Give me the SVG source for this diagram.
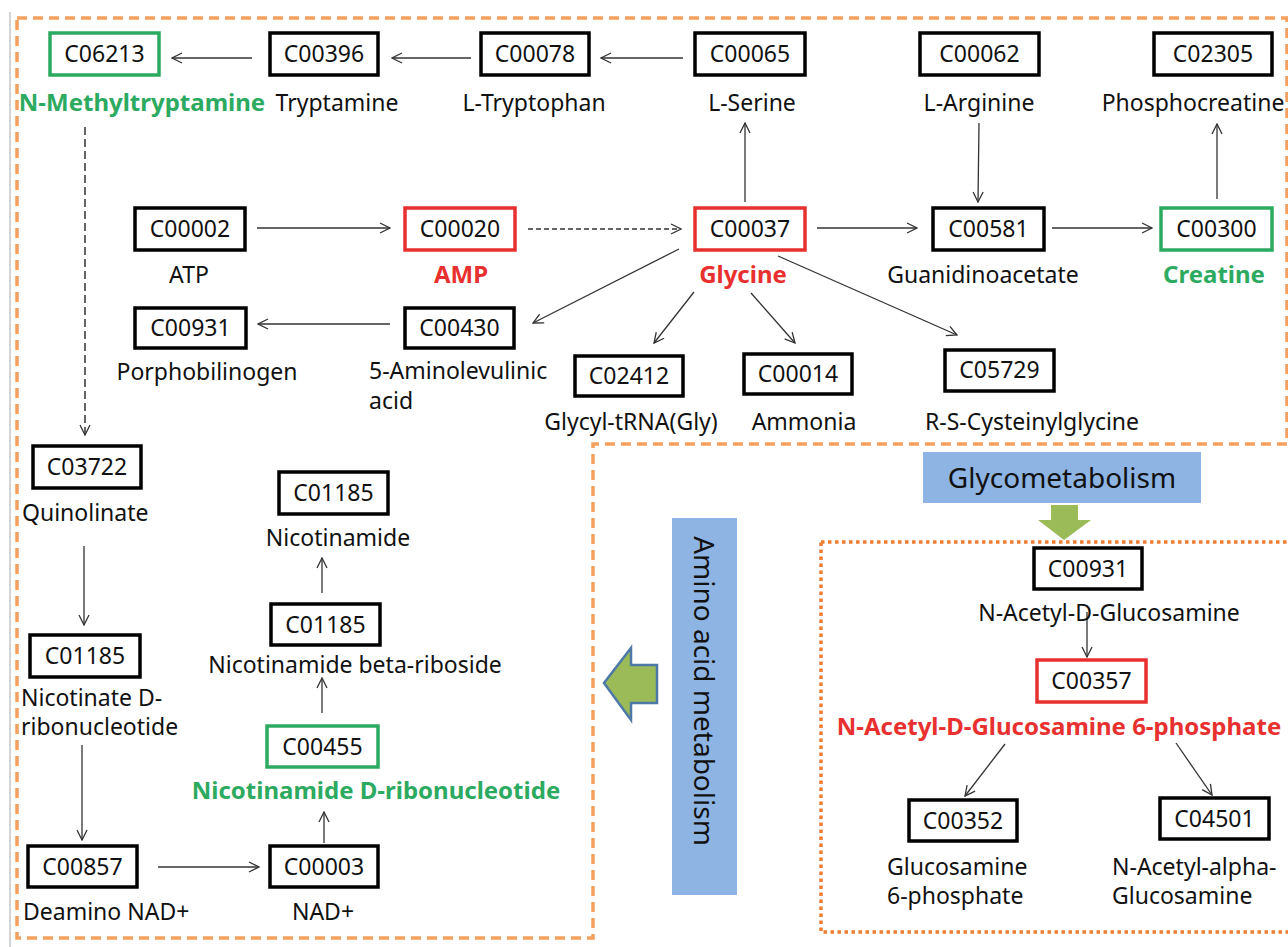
<svg xmlns="http://www.w3.org/2000/svg" width="1288" height="947" viewBox="0 0 1288 947">
<defs>
<marker id="ah" viewBox="0 0 12 12" refX="11" refY="6" markerWidth="12" markerHeight="12" markerUnits="userSpaceOnUse" orient="auto">
<path d="M1,1 L11,6 L1,11" fill="none" stroke="#333" stroke-width="1.3" stroke-dasharray="none"/>
</marker>
</defs>
<style>
text{font-family:"Noto Sans","Open Sans","Liberation Sans",sans-serif;fill:#111}
.code{font-size:23px;text-anchor:middle}
.lbl{font-size:23px;text-anchor:middle}
.lft{font-size:23px;text-anchor:start}
.b{stroke:#000;stroke-width:3.5;fill:#fff}
.r{stroke:#E8302F;stroke-width:3.5;fill:#fff}
.g{stroke:#2BAA60;stroke-width:3.5;fill:#fff}
.red{fill:#E8302F;font-weight:bold;font-size:24px}
.grn{fill:#2BAA60;font-weight:bold;font-size:24px}
.c{stroke:#333;stroke-width:1.3;fill:none;marker-end:url(#ah)}
.dh{stroke-dasharray:5 3;stroke-width:1.5}
.dv{stroke-dasharray:8 4;stroke-width:1.5}
.blue{fill:#8DB4E2}
</style>
<rect width="1288" height="947" fill="#fff"/>
<line x1="10" y1="12" x2="10" y2="947" stroke="#d4d4d4" stroke-width="2"/>
<g id="regions">
<polygon points="17,18 1287,18 1287,444 593,444 593,938 17,938" fill="none" stroke="#F4A05E" stroke-width="3.5" stroke-dasharray="10 6"/>
<rect x="821" y="542" width="480" height="390" fill="none" stroke="#ED7D31" stroke-width="3.5" stroke-dasharray="3.5 3.5"/>
</g>
<g id="glyco-label">
<rect class="blue" x="923" y="452" width="278" height="51"/>
<text x="1062" y="488" style="font-size:28px;text-anchor:middle">Glycometabolism</text>
<polygon points="1051,505 1078,505 1078,520 1091,520 1064,540 1038,520 1051,520" fill="#9BBB59"/>
</g>
<g id="amino-label">
<rect class="blue" x="672" y="518" width="65" height="377"/>
<text transform="translate(694,691) rotate(90)" style="font-size:28px;text-anchor:middle">Amino acid metabolism</text>
<polygon points="604,683 631,648 631,665 657,665 657,703 631,703 631,720" fill="#9BBB59" stroke="#4E79A7" stroke-width="2.5" stroke-linejoin="miter"/>
</g>
<g id="connectors">
<line class="c" x1="252" y1="58" x2="172" y2="58"/>
<line class="c" x1="471" y1="58" x2="392" y2="58"/>
<line class="c" x1="683" y1="58" x2="601" y2="58"/>
<line class="c" x1="257" y1="228" x2="390" y2="228"/>
<line class="c dh" x1="528" y1="229" x2="681" y2="229"/>
<line class="c" x1="817" y1="228" x2="917" y2="228"/>
<line class="c" x1="1052" y1="228" x2="1152" y2="228"/>
<line class="c" x1="745" y1="202" x2="745" y2="123"/>
<line class="c" x1="979" y1="123" x2="978" y2="202"/>
<line class="c" x1="1217" y1="199" x2="1217" y2="124"/>
<line class="c" x1="390" y1="324" x2="258" y2="324"/>
<line class="c" x1="679" y1="249" x2="533" y2="323"/>
<line class="c" x1="694" y1="292" x2="654" y2="343"/>
<line class="c" x1="751" y1="293" x2="795" y2="343"/>
<line class="c" x1="778" y1="256" x2="957" y2="335"/>
<line class="c dv" x1="85" y1="127" x2="85" y2="435"/>
<line class="c" x1="84" y1="546" x2="84" y2="625"/>
<line class="c" x1="82" y1="745" x2="82" y2="840"/>
<line class="c" x1="158" y1="867" x2="259" y2="867"/>
<line class="c" x1="324" y1="843" x2="324" y2="812"/>
<line class="c" x1="322" y1="713" x2="322" y2="678"/>
<line class="c" x1="322" y1="593" x2="322" y2="558"/>
<line class="c" x1="1087" y1="612" x2="1087" y2="657"/>
<line class="c" x1="1005" y1="744" x2="965" y2="796"/>
<line class="c" x1="1176" y1="743" x2="1212" y2="795"/>
</g>
<g id="C06213"><rect class="g" x="50" y="33" width="109" height="42"/><text class="code" x="104.5" y="62">C06213</text><text class="lbl grn" x="142" y="111">N-Methyltryptamine</text></g>
<g id="C00396"><rect class="b" x="270" y="33" width="108" height="42"/><text class="code" x="324" y="62">C00396</text><text class="lbl" x="337" y="111">Tryptamine</text></g>
<g id="C00078"><rect class="b" x="481" y="33" width="108" height="42"/><text class="code" x="535" y="62">C00078</text><text class="lbl" x="534" y="111">L-Tryptophan</text></g>
<g id="C00065"><rect class="b" x="695" y="33" width="110" height="42"/><text class="code" x="750" y="62">C00065</text><text class="lbl" x="752" y="111">L-Serine</text></g>
<g id="C00062"><rect class="b" x="920" y="33" width="119" height="42"/><text class="code" x="979.5" y="62">C00062</text><text class="lbl" x="979" y="111">L-Arginine</text></g>
<g id="C02305"><rect class="b" x="1154" y="33" width="118" height="42"/><text class="code" x="1213" y="62">C02305</text><text class="lbl" x="1193" y="111">Phosphocreatine</text></g>
<g id="C00002"><rect class="b" x="135" y="208" width="110" height="42"/><text class="code" x="190" y="237">C00002</text><text class="lbl" x="189" y="283">ATP</text></g>
<g id="C00020"><rect class="r" x="405" y="208" width="110" height="42"/><text class="code" x="460" y="237">C00020</text><text class="lbl red" x="461" y="283">AMP</text></g>
<g id="C00037"><rect class="r" x="695" y="208" width="110" height="42"/><text class="code" x="750" y="237">C00037</text><text class="lbl red" x="743" y="283">Glycine</text></g>
<g id="C00581"><rect class="b" x="933" y="208" width="111" height="42"/><text class="code" x="988.5" y="237">C00581</text><text class="lbl" x="983" y="283">Guanidinoacetate</text></g>
<g id="C00300"><rect class="g" x="1161" y="208" width="111" height="42"/><text class="code" x="1216.5" y="237">C00300</text><text class="lbl grn" x="1214" y="283">Creatine</text></g>
<g id="C00931a"><rect class="b" x="135" y="308" width="111" height="40"/><text class="code" x="190.5" y="336">C00931</text><text class="lbl" x="207" y="380">Porphobilinogen</text></g>
<g id="C00430"><rect class="b" x="405" y="308" width="109" height="40"/><text class="code" x="459.5" y="336">C00430</text><text class="lft" x="369" y="379">5-Aminolevulinic<tspan x="369" dy="30">acid</tspan></text></g>
<g id="C02412"><rect class="b" x="575" y="356" width="108" height="40"/><text class="code" x="629" y="384">C02412</text><text class="lbl" x="631" y="430">Glycyl-tRNA(Gly)</text></g>
<g id="C00014"><rect class="b" x="744" y="354" width="108" height="40"/><text class="code" x="798" y="382">C00014</text><text class="lbl" x="804" y="430">Ammonia</text></g>
<g id="C05729"><rect class="b" x="945" y="350" width="109" height="41"/><text class="code" x="999.5" y="378">C05729</text><text class="lbl" x="1032" y="430">R-S-Cysteinylglycine</text></g>
<g id="C03722"><rect class="b" x="33" y="446" width="108" height="42"/><text class="code" x="87" y="475">C03722</text><text class="lft" x="22" y="521">Quinolinate</text></g>
<g id="C01185a"><rect class="b" x="30" y="635" width="110" height="42"/><text class="code" x="85" y="664">C01185</text><text class="lft" x="21" y="706">Nicotinate D-<tspan x="21" dy="29">ribonucleotide</tspan></text></g>
<g id="C00857"><rect class="b" x="28" y="846" width="109" height="41"/><text class="code" x="82.5" y="875">C00857</text><text class="lft" x="23" y="920">Deamino NAD+</text></g>
<g id="C00003"><rect class="b" x="270" y="846" width="108" height="41"/><text class="code" x="324" y="875">C00003</text><text class="lbl" x="323" y="920">NAD+</text></g>
<g id="C00455"><rect class="g" x="267" y="726" width="111" height="41"/><text class="code" x="322.5" y="755">C00455</text><text class="lbl grn" x="376" y="799">Nicotinamide D-ribonucleotide</text></g>
<g id="C01185b"><rect class="b" x="271" y="604" width="109" height="41"/><text class="code" x="325.5" y="633">C01185</text><text class="lbl" x="355" y="673">Nicotinamide beta-riboside</text></g>
<g id="C01185c"><rect class="b" x="279" y="472" width="109" height="42"/><text class="code" x="333.5" y="501">C01185</text><text class="lbl" x="338" y="546">Nicotinamide</text></g>
<g id="C00931b"><rect class="b" x="1034" y="548" width="108" height="41"/><text class="code" x="1088" y="577">C00931</text><text class="lbl" x="1109" y="621">N-Acetyl-D-Glucosamine</text></g>
<g id="C00357"><rect class="r" x="1037" y="660" width="109" height="42"/><text class="code" x="1091.5" y="689">C00357</text><text class="lbl red" x="1059" y="735">N-Acetyl-D-Glucosamine 6-phosphate</text></g>
<g id="C00352"><rect class="b" x="909" y="800" width="108" height="41"/><text class="code" x="963" y="829">C00352</text><text class="lft" x="887" y="875">Glucosamine<tspan x="887" dy="29">6-phosphate</tspan></text></g>
<g id="C04501"><rect class="b" x="1160" y="798" width="109" height="41"/><text class="code" x="1214.5" y="827">C04501</text><text class="lft" x="1112" y="875">N-Acetyl-alpha-<tspan x="1112" dy="29">Glucosamine</tspan></text></g>
</svg>
